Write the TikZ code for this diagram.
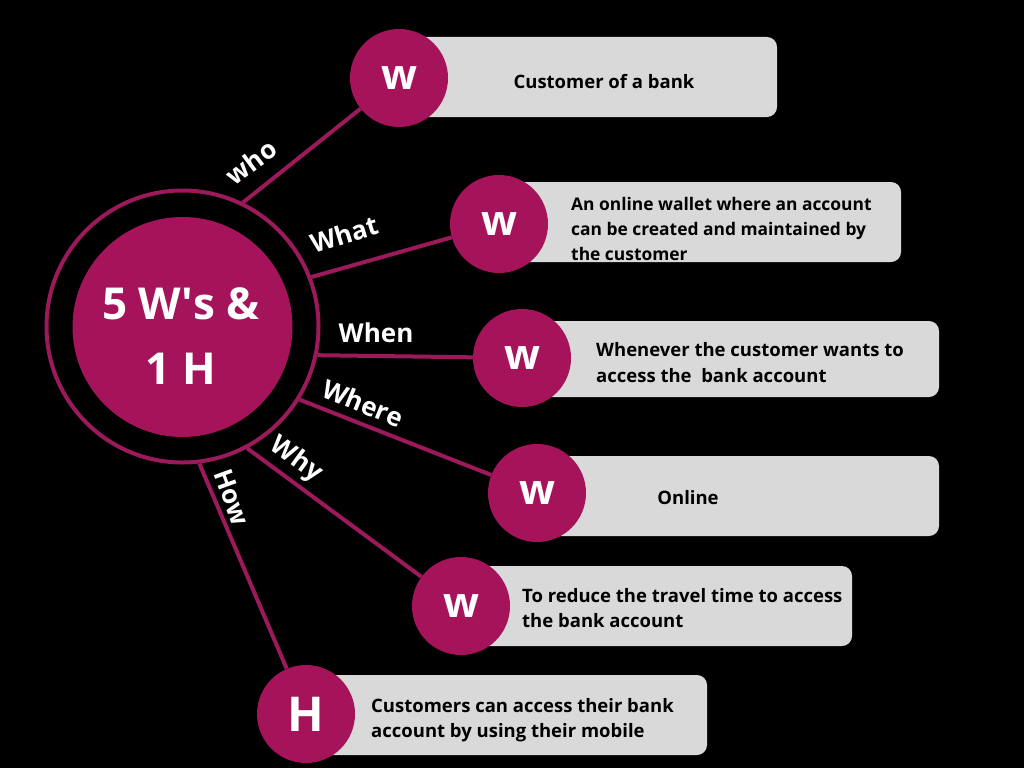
\documentclass[tikz,border=0pt]{standalone}
\usepackage{fontspec}
\setmainfont{Open Sans}
\usetikzlibrary{positioning}
\definecolor{wineRed}{HTML}{A5145B}
\definecolor{wineLine}{HTML}{9C1A5B}
\definecolor{cardGray}{HTML}{D9D9D9}

\begin{document}
\begin{tikzpicture}[x=1pt,y=-1pt,
  card/.style={fill=cardGray,rounded corners=10pt,anchor=west,minimum height=80pt,inner sep=0pt,outer sep=0pt},
  bubble/.style={circle,fill=wineRed,minimum size=98pt,inner sep=0pt,text=white,font=\bfseries\fontsize{42}{42}\selectfont},
  info/.style={align=left,anchor=west,inner sep=0pt,font=\bfseries\fontsize{18.5}{25.5}\selectfont},
  tag/.style={text=white,inner sep=0pt,font=\bfseries\fontsize{26}{26}\selectfont},
  link/.style={draw=wineLine,line width=4pt}]
\fill[black] (0,0) rectangle (1024,768);
\useasboundingbox (0,0) rectangle (1024,768);
% cards behind the bubbles
\node[card,minimum width=378pt] (whocard) at (399,77) {};
\node[card,minimum width=402pt] (whatcard) at (499,222) {};
\node[card,minimum width=417pt,minimum height=76pt] (whencard) at (522,359) {};
\node[card,minimum width=402pt] (wherecard) at (537,496) {};
\node[card,minimum width=391pt] (whycard) at (461,606) {};
\node[card,minimum width=401pt] (howcard) at (306,715) {};
% hub
\node[circle,draw=wineLine,line width=4pt,minimum size=272pt,inner sep=0pt] (ring) at (182.5,326.5) {};
\node[circle,fill=wineRed,minimum size=220pt,inner sep=0pt] (hub) at (182.5,327) {};
\node[text=white,align=center,inner sep=0pt,font=\bfseries\fontsize{44}{65}\selectfont] (hubtxt) at (181,336)
  {5 W\textquotesingle s \&\\1 H};
\node[bubble] (who) at (399,78) {\raisebox{-3pt}{w}};
\node[bubble] (what) at (499,224) {\raisebox{-3pt}{w}};
\node[bubble] (when) at (522,358) {\raisebox{-3pt}{w}};
\node[bubble] (where) at (537,493) {\raisebox{-3pt}{w}};
\node[bubble] (why) at (461,606) {\raisebox{-3pt}{w}};
\node[bubble,font=\bfseries\fontsize{48}{48}\selectfont] (how) at (306,714) {H};
\draw[link] (ring.64.8)--(who); \draw[link] (ring.21.5)--(what); \draw[link] (ring.-12.9)--(when);
\draw[link] (ring.-32.7)--(where); \draw[link] (ring.-62.8)--(why); \draw[link] (ring.-83.7)--(how);
% texts
\node[info,anchor=center] (whotxt) at (604,82) {Customer of a bank};
\node[info,font=\bfseries\fontsize{17.4}{25}\selectfont] (whattxt) at (571,229) {An online wallet where an account\\can be created and maintained by\\the customer};
\node[info] (whentxt) at (596,362.5) {Whenever the customer wants to\\access the~ bank account};
\node[info,anchor=center] (wheretxt) at (688,498) {Online};
\node[info] (whytxt) at (522,608) {To reduce the travel time to access\\the bank account};
\node[info] (howtxt) at (371,720) {Customers can access their bank\\account by using their mobile};
\node[tag,rotate=37] (whotag) at (251,162) {who};
\node[tag,rotate=17] (whattag) at (344,234) {What};
\node[tag] (whentag) at (376,333) {When};
\node[tag,rotate=-22] (wheretag) at (363,403) {Where};
\node[tag,rotate=-36] (whytag) at (296,460) {Why};
\node[tag,rotate=-70] (howtag) at (232,497) {How};
\end{tikzpicture}
\end{document}
